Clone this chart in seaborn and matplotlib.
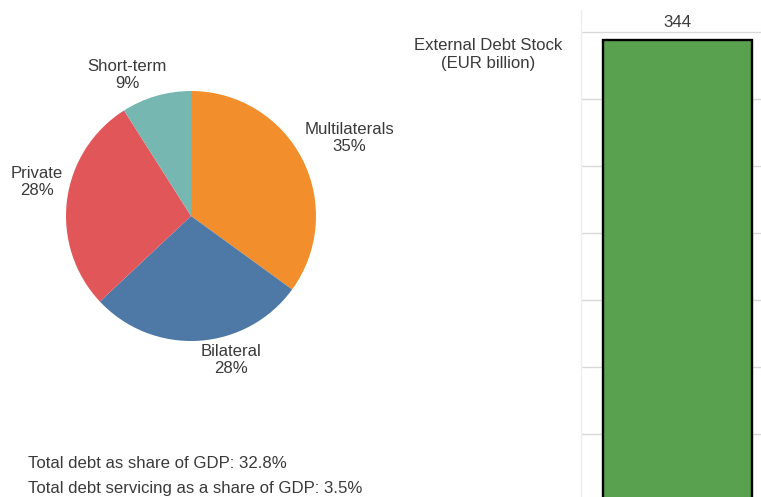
import matplotlib
matplotlib.use("Agg")
import matplotlib.pyplot as plt
import seaborn as sns
import pandas as pd

# ---- data ----
categories = ["Multilaterals", "Bilateral", "Private", "Short-term"]
shares = [35, 28, 28, 9]
debt_label = ["External Debt Stock"]
debt_stock = [344]
debt_gdp = 32.8
service_gdp = 3.5

colors = ["#F28E2B", "#4E79A7", "#E15759", "#76B7B2"]
bar_color = "#59A14F"
text_color = "#3a3a3a"
FS = 12.1

sns.set_style("white")
plt.rcParams["font.family"] = ["Liberation Sans", "DejaVu Sans"]

W, H = 761, 497
fig = plt.figure(figsize=(W / 100, H / 100), dpi=100)

# ---- pie ----
R = 125
cx, cy = 191, 216
half = 1.5 * R
ax_pie = fig.add_axes([(cx - half) / W, (H - cy - half) / H, 2 * half / W, 2 * half / H])
wedges, texts = ax_pie.pie(shares, colors=colors, startangle=90, counterclock=False,
                           labels=[f"{c}\n{s}%" for c, s in zip(categories, shares)],
                           wedgeprops=dict(linewidth=0))
ax_pie.set_xlim(-1.5, 1.5)
ax_pie.set_ylim(-1.5, 1.5)
ax_pie.set_aspect("equal")
ax_pie.axis("off")
label_xy = [(1.264, 0.624), (0.32, -1.152), (-1.232, 0.272), (-0.512, 1.128)]
for t, (x, y) in zip(texts, label_xy):
    t.set_position((x, y))
    t.set_ha("center")
    t.set_va("center")
    t.set_multialignment("center")
    t.set_fontsize(FS)
    t.set_color(text_color)
    t.set_linespacing(1.1)

# ---- bar ----
left_px, right_px = 581, 774
top_px, bottom_px = 10, 501
ax_bar = fig.add_axes([left_px / W, (H - bottom_px) / H, (right_px - left_px) / W,
                       (bottom_px - top_px) / H])
df = pd.DataFrame({"label": debt_label, "value": debt_stock})
sns.barplot(data=df, x="label", y="value", ax=ax_bar, color=bar_color, saturation=1,
            width=0.772, edgecolor="black", linewidth=1.7)
ax_bar.set_xlim(-0.5, 0.5)
ax_bar.set_ylim(0, 366.4)
ax_bar.set_yticks([50, 100, 150, 200, 250, 300, 350])
ax_bar.yaxis.grid(True, color="#d9d9d9", linewidth=1)
ax_bar.set_axisbelow(True)
ax_bar.tick_params(left=False, bottom=False, labelleft=False, labelbottom=False)
ax_bar.set_xlabel("")
ax_bar.set_ylabel("")
for s in ["top", "right", "bottom"]:
    ax_bar.spines[s].set_visible(False)
ax_bar.spines["left"].set_color("#eeeeee")
ax_bar.spines["left"].set_linewidth(1)
ax_bar.bar_label(ax_bar.containers[0], fmt="%d", padding=7, fontsize=FS, color=text_color)

# ---- texts ----
fig.text(488 / W, 1 - 54.5 / H, "External Debt Stock\n(EUR billion)", ha="center", va="center",
         fontsize=FS, color=text_color, linespacing=1.3)
fig.text(28 / W, 1 - 463 / H, f"Total debt as share of GDP: {debt_gdp}%", ha="left",
         va="center", fontsize=FS, color=text_color)
fig.text(28 / W, 1 - 489 / H, f"Total debt servicing as a share of GDP: {service_gdp}%",
         ha="left", va="center", fontsize=FS, color=text_color)

fig.savefig("out.png", dpi=100)
